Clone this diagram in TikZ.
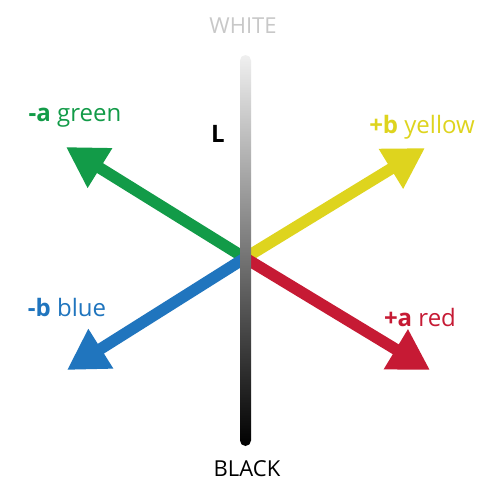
\documentclass[tikz,border=0pt]{standalone}
\usepackage{fontspec}
\setmainfont{Open Sans}
\usepackage{xcolor}
\usetikzlibrary{arrows.meta,positioning,shapes.misc}
\definecolor{agreen}{RGB}{18,155,72}
\definecolor{byellow}{RGB}{222,212,30}
\definecolor{bblue}{RGB}{32,117,190}
\definecolor{ared}{RGB}{198,26,52}
\definecolor{wgray}{RGB}{200,200,200}

\begin{document}
\begin{tikzpicture}[x=1pt,y=-1pt,
  axis/.style={line width=11.5pt,-{Triangle[length=40pt,width=44pt]}},
  lab/.style={font=\fontsize{22}{26}\selectfont,inner sep=0pt},
  clab/.style={font=\fontsize{24}{28}\selectfont,inner sep=0pt}]
  \fill[white] (0,0) rectangle (489,501);
  \useasboundingbox (0,0) rectangle (489,501);
  \coordinate (o) at (245,258);
  \foreach \nm/\x/\y/\c in {green/66/147/agreen,yellow/425/148/byellow,blue/67/370/bblue,red/430/370/ared}
    {\coordinate (\nm) at (\x,\y); \draw[axis,\c] (o) -- (\nm);}
  \node[rounded corners=5.5pt,minimum width=11pt,minimum height=391pt,inner sep=0pt,
        top color=gray!12,bottom color=black] (Lbar) at (245.5,250.5) {};
  \node[lab,wgray] (white) at (243,26) {WHITE};
  \node[lab] (black) at (247,469) {BLACK};
  \node[inner sep=0pt,font=\fontsize{24}{28}\selectfont\bfseries] (L) at (218,134) {L};
  \node[clab,agreen] (lgreen) at (75,118) {\textbf{-a} green};
  \node[clab,byellow] (lyellow) at (422,127) {\textbf{+b} yellow};
  \node[clab,bblue] (lblue) at (67,307) {\textbf{-b} blue};
  \node[clab,ared] (lred) at (420,317) {\textbf{+a} red};
\end{tikzpicture}
\end{document}
